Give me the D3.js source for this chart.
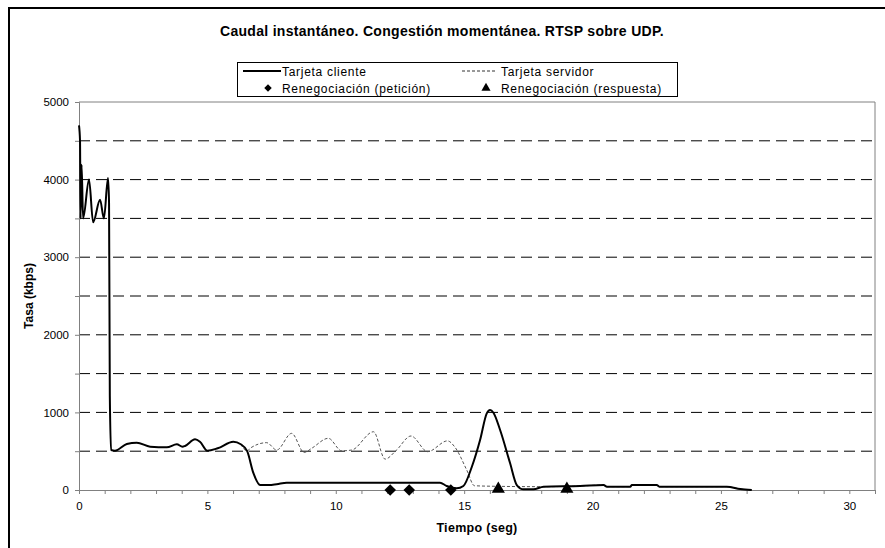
<!DOCTYPE html>
<html>
<head>
<meta charset="utf-8">
<title>Caudal instantáneo</title>
<script src="https://cdn.jsdelivr.net/npm/d3@7"></script>
<style>
  body { margin: 0; background: #fff; }
  text { font-family: Arial, "Liberation Sans", sans-serif; }
</style>
</head>
<body>
<script>
// tiempos y tasas
var clienteT = [0, 0.04, 0.06, 0.1, 0.16, 0.39, 0.55, 0.82, 0.97, 1.13, 1.17, 1.2, 1.25, 1.4, 1.86, 2.25, 2.77, 3.42, 3.81, 4.03, 4.13, 4.52, 4.71, 5.0, 5.4, 6.01, 6.3, 6.55, 6.79, 7.05, 7.4, 7.7, 8.09, 10.2, 14.06, 14.32, 14.71, 14.97, 15.3, 15.62, 15.88, 16.01, 16.14, 16.4, 16.79, 17.05, 17.31, 17.7, 18.09, 19.52, 20.43, 20.56, 21.47, 21.53, 22.5, 22.6, 25.23, 25.75, 26.2];
var clienteV = [4700, 4500, 3500, 4190, 3500, 4000, 3450, 3740, 3500, 4020, 3700, 1220, 515, 506, 593, 610, 558, 550, 589, 558, 567, 653, 622, 506, 537, 622, 590, 500, 220, 64, 64, 75, 94, 94, 94, 52, 22, 52, 300, 644, 988, 1031, 996, 773, 344, 64, 9, 9, 43, 52, 64, 43, 43, 64, 64, 43, 43, 13, 0];

var servidorT = [6.3, 6.55, 6.66, 7.31, 7.7, 8.28, 8.77, 9.06, 9.71, 10.23, 10.62, 11.47, 11.92, 12.34, 12.93, 13.58, 14.35, 14.65, 15.1, 15.4, 16.2, 17.96, 18.09, 19.52, 20.43, 20.56, 21.47, 21.53, 22.5, 22.6, 25.23, 25.75, 26.2];
var servidorV = [590, 500, 537, 610, 515, 730, 484, 537, 666, 505, 515, 751, 398, 505, 696, 494, 633, 548, 258, 55, 48, 43, 43, 52, 64, 43, 43, 64, 64, 43, 43, 13, 0];

var peticionT = [12.12, 12.86, 14.48];
var respuestaT = [16.33, 19.0];

var yTicks = [0, 500, 1000, 1500, 2000, 2500, 3000, 3500, 4000, 4500, 5000];
var yLabels = [0, 1000, 2000, 3000, 4000, 5000];
var xLabels = [0, 5, 10, 15, 20, 25, 30];

var ancho = 885, alto = 548;
var izq = 79, der = 875, arriba = 102, abajo = 490;

var svg = d3.select("body").append("svg")
  .attr("width", ancho).attr("height", alto);

svg.append("rect").attr("width", ancho).attr("height", alto).attr("fill", "#fff");

// marco exterior (cortado abajo y a la derecha)
svg.append("rect")
  .attr("x", 9).attr("y", 8).attr("width", 900).attr("height", 600)
  .attr("fill", "none").attr("stroke", "#000").attr("stroke-width", 2);

var x = d3.scaleLinear().domain([0, 31]).range([izq, der]);
var y = d3.scaleLinear().domain([0, 5000]).range([abajo, arriba]);

// lineas de division punteadas
svg.append("g").selectAll("line")
  .data(yTicks.filter(function(d) { return d > 0 && d < 5000; }))
  .enter().append("line")
  .attr("x1", izq).attr("x2", der)
  .attr("y1", function(d) { return y(d); })
  .attr("y2", function(d) { return y(d); })
  .attr("stroke", "#000").attr("stroke-dasharray", "11,6");

// borde del area del grafico (arriba y derecha)
svg.append("path")
  .attr("d", "M" + izq + "," + arriba + "H" + der + "V" + abajo)
  .attr("fill", "none").attr("stroke", "#808080");

// eje y
var ejeY = svg.append("g").attr("transform", "translate(" + izq + ",0)")
  .call(d3.axisLeft(y).tickValues(yTicks).tickSize(4)
    .tickFormat(function(d) { return yLabels.indexOf(d) >= 0 ? d : ""; }));
ejeY.select(".domain").attr("stroke", "#808080");
ejeY.selectAll(".tick line").attr("stroke", "#808080");
ejeY.selectAll("text").attr("font-size", 11.5).attr("fill", "#000")
  .attr("font-family", "Arial, 'Liberation Sans', sans-serif").attr("x", -10);

// eje x
var ejeX = svg.append("g").attr("transform", "translate(0," + abajo + ")")
  .call(d3.axisBottom(x).tickValues(d3.range(0, 32)).tickSize(4).tickSizeOuter(0)
    .tickFormat(function(d) { return xLabels.indexOf(d) >= 0 ? d : ""; }));
ejeX.select(".domain").attr("stroke", "#808080");
ejeX.selectAll(".tick line").attr("stroke", "#808080");
ejeX.selectAll("text").attr("font-size", 11.5).attr("fill", "#000")
  .attr("font-family", "Arial, 'Liberation Sans', sans-serif").attr("y", 12);

// series
var linea = d3.line()
  .x(function(d) { return x(d[0]); })
  .y(function(d) { return y(d[1]); })
  .curve(d3.curveMonotoneX);

svg.append("path")
  .datum(d3.zip(servidorT, servidorV))
  .attr("d", linea)
  .attr("fill", "none").attr("stroke", "#555").attr("stroke-width", 1)
  .attr("stroke-dasharray", "3,2");

svg.append("path")
  .datum(d3.zip(clienteT, clienteV))
  .attr("d", linea)
  .attr("fill", "none").attr("stroke", "#000").attr("stroke-width", 2);

// marcadores
var rombo = d3.symbol().type(d3.symbolDiamond2).size(85);
var triangulo = d3.symbol().type(d3.symbolTriangle).size(75);

svg.append("g").selectAll("path")
  .data(peticionT).enter().append("path")
  .attr("d", rombo)
  .attr("transform", function(d) { return "translate(" + x(d) + "," + y(0) + ")"; })
  .attr("fill", "#000");

svg.append("g").selectAll("path")
  .data(respuestaT).enter().append("path")
  .attr("d", triangulo)
  .attr("transform", function(d) { return "translate(" + x(d) + "," + (y(0) - 1) + ")"; })
  .attr("fill", "#000");

// titulo
svg.append("text")
  .attr("x", 442).attr("y", 36)
  .attr("text-anchor", "middle")
  .attr("font-size", 14).attr("font-weight", "bold").attr("letter-spacing", 0.3)
  .text("Caudal instantáneo. Congestión momentánea. RTSP sobre UDP.");

// titulos de ejes
svg.append("text")
  .attr("transform", "translate(33," + ((arriba + abajo) / 2) + ") rotate(-90)")
  .attr("text-anchor", "middle")
  .attr("font-size", 12).attr("font-weight", "bold")
  .text("Tasa (kbps)");

svg.append("text")
  .attr("x", (izq + der) / 2).attr("y", 532)
  .attr("text-anchor", "middle")
  .attr("font-size", 12.5).attr("font-weight", "bold").attr("letter-spacing", 0.3)
  .text("Tiempo (seg)");

// leyenda
var ley = svg.append("g").attr("font-size", 12).attr("letter-spacing", 0.7);
ley.append("rect")
  .attr("x", 237.5).attr("y", 62.5).attr("width", 440).attr("height", 34)
  .attr("fill", "#fff").attr("stroke", "#000");

ley.append("line").attr("x1", 243).attr("x2", 281).attr("y1", 71).attr("y2", 71)
  .attr("stroke", "#000").attr("stroke-width", 2);
ley.append("text").attr("x", 282).attr("y", 75.5).text("Tarjeta cliente");

ley.append("line").attr("x1", 462).attr("x2", 496).attr("y1", 71).attr("y2", 71)
  .attr("stroke", "#333").attr("stroke-dasharray", "3,2");
ley.append("text").attr("x", 501).attr("y", 75.5).text("Tarjeta servidor");

ley.append("path").attr("d", d3.symbol().type(d3.symbolDiamond2).size(36))
  .attr("transform", "translate(268,88)").attr("fill", "#000");
ley.append("text").attr("x", 282).attr("y", 92.5).text("Renegociación (petición)");

ley.append("path").attr("d", d3.symbol().type(d3.symbolTriangle).size(36))
  .attr("transform", "translate(486,88)").attr("fill", "#000");
ley.append("text").attr("x", 501).attr("y", 92.5).text("Renegociación (respuesta)");
</script>
</body>
</html>
